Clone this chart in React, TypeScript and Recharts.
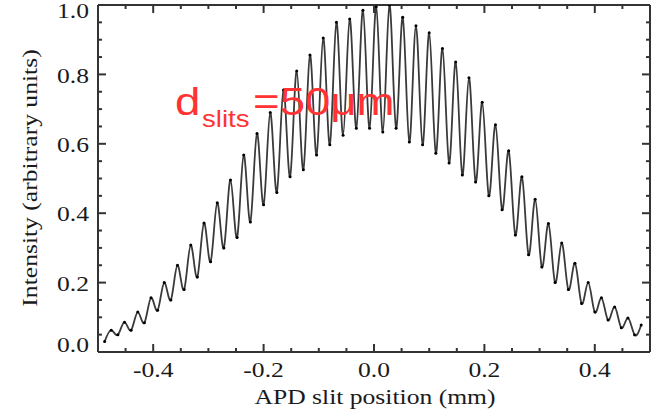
import React from 'react';
import { LineChart, Line, XAxis, YAxis, ReferenceLine } from 'recharts';

// fringe extrema (alternating trough / peak)
const positionMm = [
  -0.488, -0.476, -0.464, -0.452, -0.44, -0.428, -0.416, -0.404, -0.392, -0.38,
  -0.368, -0.356, -0.344, -0.332, -0.32, -0.308, -0.296, -0.284, -0.272, -0.26,
  -0.248, -0.236, -0.224, -0.212, -0.2, -0.188, -0.176, -0.164, -0.152, -0.14,
  -0.128, -0.116, -0.104, -0.092, -0.08, -0.068, -0.056, -0.044, -0.032, -0.02,
  -0.008, 0.004, 0.016, 0.028, 0.04, 0.052, 0.064, 0.076, 0.088, 0.1,
  0.112, 0.124, 0.136, 0.148, 0.16, 0.172, 0.184, 0.196, 0.208, 0.22,
  0.232, 0.244, 0.256, 0.268, 0.28, 0.292, 0.304, 0.316, 0.328, 0.34,
  0.352, 0.364, 0.376, 0.388, 0.4, 0.412, 0.424, 0.436, 0.448, 0.46,
  0.472, 0.484,
];

const intensity = [
  0.03, 0.063, 0.05, 0.086, 0.063, 0.115, 0.084, 0.156, 0.12, 0.2,
  0.15, 0.25, 0.18, 0.308, 0.216, 0.372, 0.26, 0.43, 0.3, 0.496,
  0.33, 0.568, 0.375, 0.63, 0.424, 0.69, 0.46, 0.755, 0.505, 0.81,
  0.525, 0.856, 0.568, 0.905, 0.597, 0.95, 0.625, 0.96, 0.645, 0.985,
  0.645, 0.995, 0.634, 1.0, 0.645, 0.965, 0.605, 0.94, 0.597, 0.92,
  0.573, 0.875, 0.545, 0.836, 0.51, 0.79, 0.49, 0.72, 0.45, 0.655,
  0.41, 0.58, 0.337, 0.505, 0.28, 0.44, 0.245, 0.37, 0.2, 0.314,
  0.18, 0.256, 0.14, 0.2, 0.115, 0.156, 0.092, 0.13, 0.07, 0.098,
  0.05, 0.078,
];

const xTicks = [
  -0.5, -0.45, -0.4, -0.35, -0.3, -0.25, -0.2, -0.15, -0.1, -0.05, 0,
  0.05, 0.1, 0.15, 0.2, 0.25, 0.3, 0.35, 0.4, 0.45, 0.5,
];
const xLabels = [-0.4, -0.2, 0, 0.2, 0.4];

const yTicks = [
  0, 0.05, 0.1, 0.15, 0.2, 0.25, 0.3, 0.35, 0.4, 0.45, 0.5,
  0.55, 0.6, 0.65, 0.7, 0.75, 0.8, 0.85, 0.9, 0.95, 1.0,
];
const yLabels = [0, 0.2, 0.4, 0.6, 0.8, 1.0];

const data = positionMm.map((x, i) => ({ x, intensity: intensity[i] }));

const X_MIN = -0.5;
const X_MAX = 0.5;
const Y_MIN = 0;
const Y_MAX = 1;

const AXIS = '#333';
const TEXT = '#1a1a1a';
const SERIF = '"Liberation Serif", "Times New Roman", serif';
const STRETCH = 1.22;
const W = 2;

// inward tick lengths as a fraction of each axis span (about 8px / 4px)
const X_MAJOR = 0.0145;
const X_MINOR = 0.0072;
const Y_MAJOR = 0.023;
const Y_MINOR = 0.0115;

const fmt = (v: number) => (Math.abs(v) < 1e-9 ? '0.0' : v.toFixed(1));
const isLabel = (list: number[], v: number) => list.some((m) => Math.abs(m - v) < 1e-6);

const BottomLabel = (props: any) => {
  const { x, y, payload } = props;
  return (
    <text
      transform={`translate(${x},${y + 13}) scale(${STRETCH},1)`}
      textAnchor="middle"
      fontFamily={SERIF}
      fontSize={21}
      fill={TEXT}
    >
      {fmt(payload.value)}
    </text>
  );
};

const LeftLabel = (props: any) => {
  const { x, y, payload } = props;
  // the end labels sit a little inside the frame in the original
  const shift = payload.value >= 1 ? 6 : payload.value <= 0 ? -7 : 1;
  return (
    <text
      transform={`translate(${x},${y + shift}) scale(${STRETCH},1)`}
      textAnchor="end"
      dominantBaseline="central"
      fontFamily={SERIF}
      fontSize={21}
      fill={TEXT}
    >
      {fmt(payload.value)}
    </text>
  );
};

const frame = {
  type: 'number' as const,
  interval: 0 as const,
  allowDataOverflow: true,
  tickLine: false,
  tickSize: 0,
  axisLine: { stroke: AXIS, strokeWidth: W },
};

const tickStyle = { stroke: AXIS, strokeWidth: W, isFront: true };

export default function App() {
  return (
    <div style={{ position: 'absolute', left: 0, top: 0, width: 654, height: 414, background: '#fff' }}>
      <LineChart width={654} height={414} data={data} margin={{ top: 4, right: 3, left: 97, bottom: 61 }}>
        <XAxis {...frame} dataKey="x" domain={[X_MIN, X_MAX]} ticks={xLabels} height={1} tickMargin={12} tick={<BottomLabel />} />
        <XAxis {...frame} xAxisId="top" orientation="top" domain={[X_MIN, X_MAX]} ticks={xLabels} height={1} tick={false} />
        <YAxis {...frame} domain={[Y_MIN, Y_MAX]} ticks={yLabels} width={1} tickMargin={9} tick={<LeftLabel />} />
        <YAxis {...frame} yAxisId="right" orientation="right" domain={[Y_MIN, Y_MAX]} ticks={yLabels} width={1} tick={false} />

        {xTicks.map((t) => {
          const len = isLabel(xLabels, t) ? Y_MAJOR : Y_MINOR;
          return (
            <ReferenceLine
              key={`b${t}`}
              {...tickStyle}
              segment={[{ x: t, y: Y_MIN }, { x: t, y: Y_MIN + len }]}
              ifOverflow="visible"
            />
          );
        })}
        {xTicks.map((t) => {
          const len = isLabel(xLabels, t) ? Y_MAJOR : Y_MINOR;
          return (
            <ReferenceLine
              key={`t${t}`}
              {...tickStyle}
              segment={[{ x: t, y: Y_MAX }, { x: t, y: Y_MAX - len }]}
              ifOverflow="visible"
            />
          );
        })}
        {yTicks.map((t) => {
          const len = isLabel(yLabels, t) ? X_MAJOR : X_MINOR;
          return (
            <ReferenceLine
              key={`l${t}`}
              {...tickStyle}
              segment={[{ x: X_MIN, y: t }, { x: X_MIN + len, y: t }]}
              ifOverflow="visible"
            />
          );
        })}
        {yTicks.map((t) => {
          const len = isLabel(yLabels, t) ? X_MAJOR : X_MINOR;
          return (
            <ReferenceLine
              key={`r${t}`}
              {...tickStyle}
              segment={[{ x: X_MAX, y: t }, { x: X_MAX - len, y: t }]}
              ifOverflow="visible"
            />
          );
        })}

        <Line
          type="natural"
          dataKey="intensity"
          stroke="#3a3a3a"
          strokeWidth={1.8}
          dot={{ r: 1.5, fill: '#000', stroke: 'none' }}
          isAnimationActive={false}
        />
      </LineChart>
      <svg width={654} height={414} style={{ position: 'absolute', left: 0, top: 0, pointerEvents: 'none' }}>
        <text
          transform={`translate(375,404) scale(${STRETCH},1)`}
          textAnchor="middle"
          fontFamily={SERIF}
          fontSize={21}
          fill={TEXT}
        >
          APD slit position (mm)
        </text>
        <text
          transform={`translate(37,178) rotate(-90) scale(${STRETCH},1)`}
          textAnchor="middle"
          fontFamily={SERIF}
          fontSize={21}
          fill={TEXT}
        >
          Intensity (arbitrary units)
        </text>
        <g fontFamily='"Liberation Sans", Arial, sans-serif' fill="#ff3333">
          <text transform="translate(175,115) scale(1.2,1)" fontSize={38}>d</text>
          <text transform="translate(202,127) scale(1.2,1)" fontSize={23}>slits</text>
          <text transform="translate(253,115) scale(1.2,1)" fontSize={38}>=50μm</text>
        </g>
      </svg>
    </div>
  );
}
